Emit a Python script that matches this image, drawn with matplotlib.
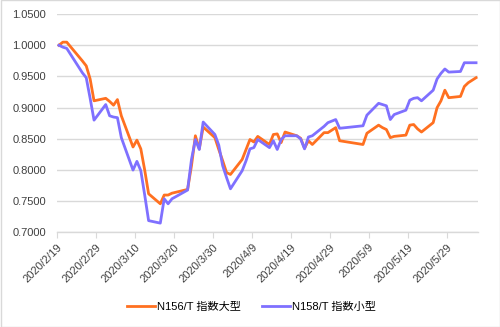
import matplotlib
matplotlib.use("Agg")
import matplotlib.pyplot as plt
import matplotlib.dates as mdates
import pandas as pd
from matplotlib.patches import Rectangle

plt.rcParams["font.family"] = ["Liberation Sans", "Noto Sans CJK JP", "DejaVu Sans"]

# trading days (TSE calendar) and index levels, rebased to 1.0 on 2020/2/19
DATES = [
    "2020-02-19", "2020-02-20", "2020-02-21", "2020-02-25", "2020-02-26", "2020-02-27", "2020-02-28",
    "2020-03-02", "2020-03-03", "2020-03-04", "2020-03-05", "2020-03-06",
    "2020-03-09", "2020-03-10", "2020-03-11", "2020-03-12", "2020-03-13",
    "2020-03-16", "2020-03-17", "2020-03-18", "2020-03-19",
    "2020-03-23", "2020-03-24", "2020-03-25", "2020-03-26", "2020-03-27",
    "2020-03-30", "2020-03-31", "2020-04-01", "2020-04-02", "2020-04-03",
    "2020-04-06", "2020-04-07", "2020-04-08", "2020-04-09", "2020-04-10",
    "2020-04-13", "2020-04-14", "2020-04-15", "2020-04-16", "2020-04-17",
    "2020-04-20", "2020-04-21", "2020-04-22", "2020-04-23", "2020-04-24",
    "2020-04-27", "2020-04-28", "2020-04-30", "2020-05-01",
    "2020-05-07", "2020-05-08",
    "2020-05-11", "2020-05-12", "2020-05-13", "2020-05-14", "2020-05-15",
    "2020-05-18", "2020-05-19", "2020-05-20", "2020-05-21", "2020-05-22",
    "2020-05-25", "2020-05-26", "2020-05-27", "2020-05-28", "2020-05-29",
    "2020-06-01", "2020-06-02", "2020-06-03", "2020-06-04", "2020-06-05",
]

LARGE = [
    1.000, 1.005, 1.005, 0.975, 0.967, 0.946, 0.911,
    0.915, 0.910, 0.904, 0.913, 0.887,
    0.837, 0.848, 0.834, 0.800, 0.762,
    0.746, 0.760, 0.760, 0.763,
    0.769, 0.807, 0.855, 0.834, 0.869,
    0.852, 0.833, 0.815, 0.796, 0.793,
    0.817, 0.833, 0.849, 0.845, 0.854,
    0.841, 0.857, 0.858, 0.844, 0.861,
    0.855, 0.851, 0.835, 0.847, 0.841,
    0.860, 0.860, 0.868, 0.847,
    0.841, 0.859,
    0.872, 0.868, 0.865, 0.852, 0.854,
    0.856, 0.872, 0.873, 0.866, 0.861,
    0.876, 0.900, 0.911, 0.928, 0.916,
    0.918, 0.934, 0.940, 0.944, 0.948,
]

SMALL = [
    1.000, 0.997, 0.995, 0.956, 0.948, 0.915, 0.880,
    0.905, 0.887, 0.885, 0.884, 0.852,
    0.800, 0.814, 0.799, 0.760, 0.719,
    0.715, 0.754, 0.746, 0.754,
    0.768, 0.817, 0.849, 0.833, 0.877,
    0.857, 0.840, 0.807, 0.788, 0.770,
    0.799, 0.815, 0.834, 0.836, 0.849,
    0.836, 0.847, 0.833, 0.849, 0.855,
    0.855, 0.850, 0.834, 0.853, 0.855,
    0.870, 0.876, 0.881, 0.867,
    0.871, 0.888,
    0.907, 0.905, 0.903, 0.881, 0.889,
    0.896, 0.912, 0.915, 0.916, 0.911,
    0.928, 0.946, 0.955, 0.962, 0.957,
    0.958, 0.972, 0.972, 0.972, 0.972,
]

SERIES_NAMES = ["N156/T 指数大型", "N158/T 指数小型"]
TICK_DATES = ["2020-02-19", "2020-02-29", "2020-03-10", "2020-03-20", "2020-03-30",
              "2020-04-09", "2020-04-19", "2020-04-29", "2020-05-09", "2020-05-19", "2020-05-29"]
TICK_LABELS = ["2020/2/19", "2020/2/29", "2020/3/10", "2020/3/20", "2020/3/30",
               "2020/4/9", "2020/4/19", "2020/4/29", "2020/5/9", "2020/5/19", "2020/5/29"]
Y_TICKS = [0.70, 0.75, 0.80, 0.85, 0.90, 0.95, 1.00, 1.05]

ORANGE, VIOLET, GRID, TXT = "#FF7020", "#7F70FF", "#D9D9D9", "#404040"

# points sit in the middle of each day slot (date axis, "between tick marks")
x = pd.to_datetime(DATES) + pd.Timedelta(hours=12)

fig = plt.figure(figsize=(5.0, 3.27), dpi=100)
ax = fig.add_axes([0.114, 0.289, 0.842, 0.668])

ax.plot(x, LARGE, color=ORANGE, lw=2.0, label=SERIES_NAMES[0], solid_joinstyle="round")
ax.plot(x, SMALL, color=VIOLET, lw=2.0, label=SERIES_NAMES[1], solid_joinstyle="round")

ax.set_xlim(pd.Timestamp("2020-02-19"), pd.Timestamp("2020-06-06"))
ax.set_ylim(0.70, 1.05)
ax.set_yticks(Y_TICKS)
ax.set_yticklabels([f"{v:.4f}" for v in Y_TICKS], fontsize=8, color=TXT)
ax.set_xticks(pd.to_datetime(TICK_DATES))
ax.set_xticklabels(TICK_LABELS, rotation=45, ha="right", va="top",
                   rotation_mode="anchor", fontsize=8, color=TXT)

ax.grid(axis="y", color=GRID, lw=1.0)
ax.set_axisbelow(True)
for s in ("top", "right", "left"):
    ax.spines[s].set_visible(False)
ax.spines["bottom"].set_color(GRID)
ax.spines["bottom"].set_linewidth(1.0)
ax.tick_params(axis="y", length=0, pad=8)
ax.tick_params(axis="x", length=4, color=GRID, pad=3)

fig.legend(loc="center", bbox_to_anchor=(0.502, 0.062), ncol=2, frameon=False,
           fontsize=8, handlelength=2.6, handletextpad=0.1, columnspacing=1.9)

fig.patches.append(Rectangle((0.001, 0.0015), 0.998, 0.997, transform=fig.transFigure,
                             fill=False, edgecolor=GRID, lw=1.0))

fig.savefig("out.png", dpi=100)
